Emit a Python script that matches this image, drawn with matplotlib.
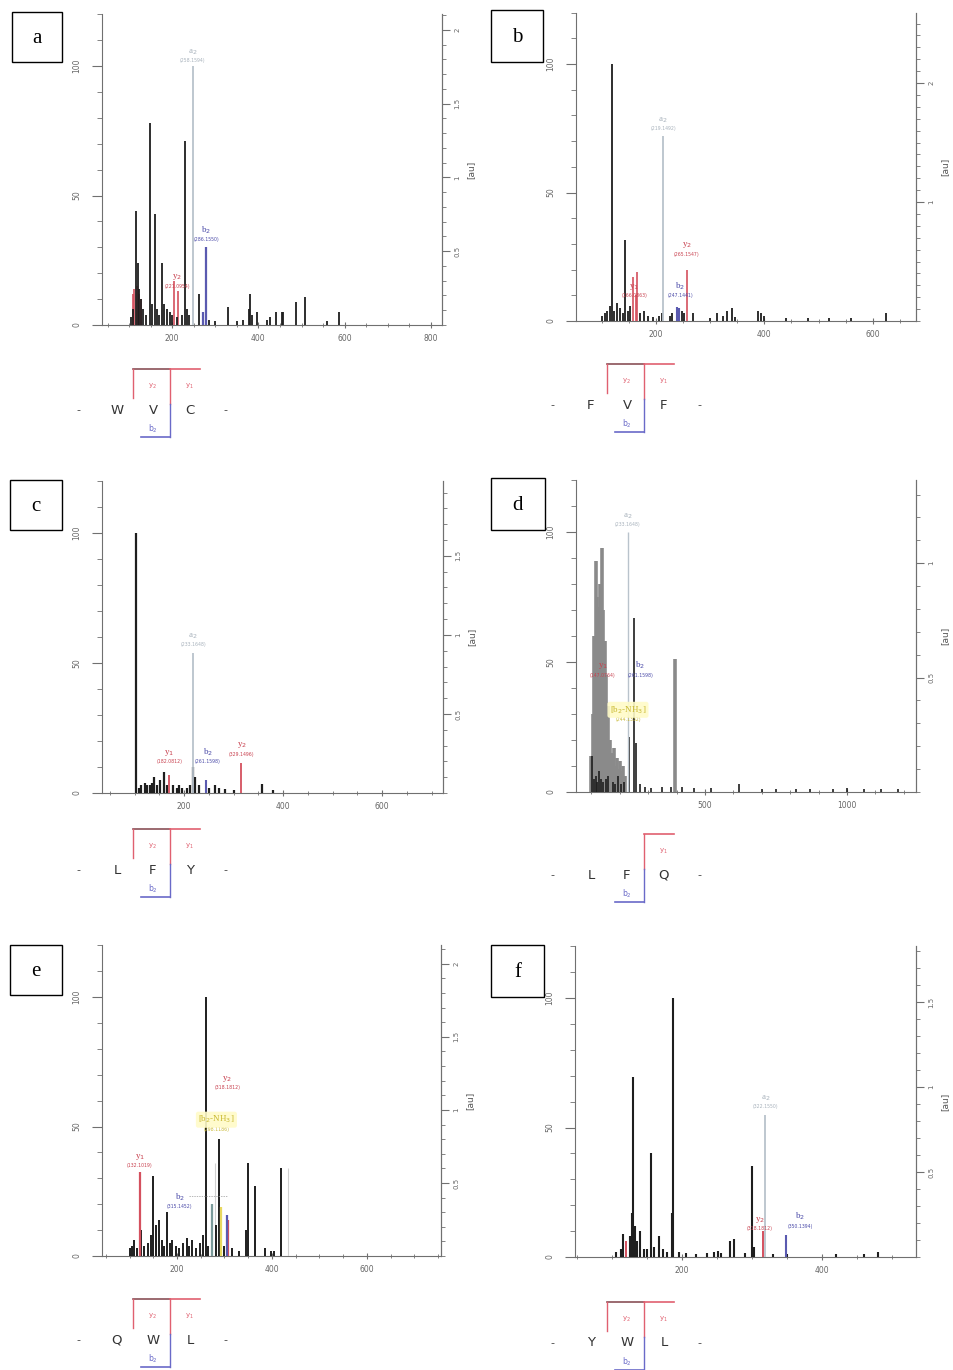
import matplotlib
matplotlib.use('Agg')
import matplotlib.pyplot as plt
from matplotlib.patches import Rectangle
from matplotlib.ticker import MultipleLocator, FixedLocator

# ---------------- data ----------------
# panel a (W V C)
a_black_mz = [104, 110, 116, 120, 124, 128, 133, 140, 149, 153, 160, 165, 170, 177, 182, 188, 195, 200, 210, 222, 230, 235, 240, 261, 285, 300, 330, 350, 365, 378, 381, 385, 397, 420, 428, 440, 455, 458, 488, 507, 560, 588]
a_black_h = [3, 6, 44, 24, 14, 10, 6, 4, 78, 8, 43, 6, 4, 24, 8, 6, 5, 4, 3, 4, 71, 6, 4, 12, 2, 1.5, 7, 1.5, 2, 6, 12, 4, 5, 2, 3, 5, 5, 5, 9, 11, 1.5, 5]
a_red_mz = [108, 112, 118, 122, 128, 205, 213]
a_red_h = [12, 14, 15, 12, 10, 17, 13]
a_gray_mz = [248]
a_gray_h = [100]
a_blue_mz = [272, 278]
a_blue_h = [5, 30]

# panel b (F V F)
b_black_mz = [100, 105, 110, 114, 118, 122, 128, 133, 138, 143, 148, 152, 170, 178, 185, 195, 205, 210, 225, 230, 248, 252, 268, 300, 312, 323, 330, 340, 345, 388, 393, 400, 440, 480, 520, 560, 625]
b_black_h = [2, 3, 4, 6, 100, 4, 7, 5, 3, 31.5, 4, 6, 3, 4, 2, 1.5, 2, 3, 2, 3, 4, 3, 3, 1, 3, 2, 4, 5, 1.5, 4, 3, 2, 1, 1, 1, 1, 3]
b_red_mz = [157, 162, 165, 257]
b_red_h = [17, 10, 19, 20]
b_gray_mz = [213]
b_gray_h = [72]
b_blue_mz = [239, 243]
b_blue_h = [5.5, 5]

# panel c (L F Y)
c_black_mz = [103, 108, 112, 120, 125, 130, 135, 140, 145, 152, 160, 165, 178, 185, 190, 196, 205, 212, 218, 222, 230, 250, 262, 270, 282, 300, 357, 380]
c_black_h = [100, 2, 3, 4, 3, 3, 4, 6, 3, 5, 8, 3, 3, 2, 3, 2, 2, 3, 10, 6, 3, 2, 3, 2, 1.5, 1, 3.5, 1]
c_red_mz = [170, 315]
c_red_h = [7, 11.5]
c_gray_mz = [218]
c_gray_h = [54]
c_blue_mz = [244]
c_blue_h = [5]

# panel d (L F Q)
d_cluster_mz = [98, 105, 110, 116, 121, 127, 132, 137, 142, 148, 153, 158, 165, 172, 180, 186, 190, 195, 200, 205, 212, 220, 394]
d_cluster_h = [14, 30, 60, 89, 75, 71, 80, 94, 70, 58, 45, 33, 20, 15, 17, 10, 13, 9, 12, 8, 10, 6, 51]
d_black_mz = [102, 108, 115, 120, 128, 135, 140, 150, 160, 175, 185, 195, 205, 215, 232, 250, 258, 270, 290, 310, 350, 380, 420, 460, 520, 620, 700, 750, 820, 870, 950, 1000, 1060, 1120, 1180]
d_black_h = [14, 5, 6, 4, 8, 5, 4, 5, 6, 4, 3, 6, 3, 4, 21, 67, 19, 3, 2, 1.5, 2, 2, 2, 1.5, 1.5, 3, 1, 1, 1, 1, 1, 1.5, 1, 1, 1]
d_gray_mz = [228]
d_gray_h = [100]

# panel e (Q W L)
e_black_mz = [100, 105, 110, 115, 125, 130, 138, 145, 149, 155, 162, 168, 172, 179, 185, 190, 198, 205, 212, 220, 225, 232, 240, 248, 255, 261, 266, 283, 289, 298, 315, 330, 345, 350, 364, 385, 398, 405, 420]
e_black_h = [3, 4, 6, 3, 10, 4, 5, 8, 31, 12, 14, 6, 4, 17, 5, 6, 4, 3, 5, 7, 4, 6, 3, 5, 8, 100, 4, 12, 45, 4, 3, 2, 10, 36, 27, 3, 2, 2, 34]
e_red_mz = [122, 308]
e_red_h = [32.5, 14]
e_teal_mz = [273]
e_teal_h = [20]
e_yellow_mz = [292]
e_yellow_h = [19]
e_blue_mz = [305]
e_blue_h = [16]
e_faint_mz = [280, 433]
e_faint_h = [36, 34]

# panel f (Y W L)
f_black_mz = [105, 112, 116, 125, 128, 130, 133, 136, 140, 145, 150, 156, 160, 167, 172, 178, 186, 187, 195, 205, 220, 235, 245, 251, 255, 269, 274, 290, 300, 302, 330, 350, 420, 460, 480]
f_black_h = [2, 3, 9, 8, 17, 69.5, 12, 6, 10, 3, 3, 40, 4, 8, 3, 2, 17, 100, 2, 1.5, 1, 1.5, 2, 2.5, 1.5, 6, 7, 1.5, 35, 4, 1, 1, 1, 1, 2]
f_red_mz = [120, 316]
f_red_h = [6, 10]
f_gray_mz = [319]
f_gray_h = [55]
f_blue_mz = [349]
f_blue_h = [8.5]

# ion annotations: (x, y, ion, m/z text, colour key)
a_ann = [(248, 101, 'a$_2$', '(258.1594)', 'gray'), (279, 32, 'b$_2$', '(286.1550)', 'blue'), (211, 14, 'y$_2$', '(221.0954)', 'red')]
b_ann = [(213, 74, 'a$_2$', '(219.1492)', 'gray'), (257, 25, 'y$_2$', '(265.1547)', 'red'), (160, 9, 'y$_1$', '(166.0863)', 'red'), (245, 9, 'b$_2$', '(247.1441)', 'blue')]
c_ann = [(218, 56, 'a$_2$', '(233.1648)', 'gray'), (170, 11, 'y$_1$', '(182.0812)', 'red'), (248, 11, 'b$_2$', '(261.1598)', 'blue'), (316, 14, 'y$_2$', '(329.1496)', 'red')]
d_ann = [(228, 102, 'a$_2$', '(233.1648)', 'gray'), (140, 44, 'y$_1$', '(147.0764)', 'red'), (272, 44, 'b$_2$', '(261.1598)', 'blue'), (229, 27, '[b$_2$-NH$_3$]', '(244.1332)', 'yellow')]
e_ann = [(122, 34, 'y$_1$', '(132.1019)', 'red'), (206, 18, 'b$_2$', '(315.1452)', 'blue'), (306, 64, 'y$_2$', '(318.1812)', 'red'), (283, 48, '[b$_2$-NH$_3$]', '(298.1186)', 'yellow')]
f_ann = [(319, 57, 'a$_2$', '(322.1550)', 'gray'), (311, 10, 'y$_2$', '(318.1812)', 'red'), (369, 11, 'b$_2$', '(350.1394)', 'blue')]

# peptide sequences
seq_a = ['W', 'V', 'C']
seq_b = ['F', 'V', 'F']
seq_c = ['L', 'F', 'Y']
seq_d = ['L', 'F', 'Q']
seq_e = ['Q', 'W', 'L']
seq_f = ['Y', 'W', 'L']

panel_letters = ['a', 'b', 'c', 'd', 'e', 'f']

# right-axis tick labels (absolute intensity)
a_rticks = [0.5, 1, 1.5, 2]
b_rticks = [1, 2]
c_rticks = [0.5, 1, 1.5]
d_rticks = [0.5, 1]
e_rticks = [0.5, 1, 1.5, 2]
f_rticks = [0.5, 1, 1.5]

# ---------------- style ----------------
COL = {'black': '#1e1e1e', 'red': '#d4505e', 'gray': '#b9c3cc', 'blue': '#5a5ab0',
       'cluster': '#8a8a8a', 'teal': '#7a9a9a', 'yellow': '#e8d860', 'faint': '#d0d0d0'}
TXT = {'gray': '#a8b2bc', 'red': '#c8404e', 'blue': '#4a4aa8', 'yellow': '#c8b830'}
AX = '#707070'

W, H = 954, 1370
fig = plt.figure(figsize=(W / 100, H / 100), dpi=100)
fig.patch.set_facecolor('white')

def fpos(left, right, base, top):
    return [left / W, 1 - base / H, (right - left) / W, (base - top) / H]

def make_panel(geom, xlim, xmaj, xmin, unit, rticks, series, ann):
    left, right, base, pxper = geom
    top = base - 120 * pxper
    ax = fig.add_axes(fpos(left, right, base, top))
    ax.set_xlim(*xlim)
    ax.set_ylim(0, 120)
    for mz, h, key, lw in series:
        ax.vlines(mz, 0, h, colors=COL[key], lw=lw, zorder=3 if key != 'cluster' else 2)
    ax.spines['top'].set_visible(False)
    for s in ['left', 'bottom', 'right']:
        ax.spines[s].set_color(AX)
        ax.spines[s].set_linewidth(0.8)
    ax.yaxis.set_major_locator(FixedLocator([0, 50, 100]))
    ax.yaxis.set_minor_locator(MultipleLocator(10))
    ax.xaxis.set_major_locator(MultipleLocator(xmaj))
    ax.xaxis.set_minor_locator(MultipleLocator(xmin))
    ax.tick_params(axis='y', which='major', length=7, width=0.8, color=AX, labelsize=5.5,
                   labelcolor='#666666', labelrotation=90, pad=8)
    ax.tick_params(axis='y', which='minor', length=3.5, width=0.6, color=AX)
    ax.tick_params(axis='x', which='major', length=5, width=0.8, color=AX, labelsize=5.5,
                   labelcolor='#666666', direction='inout', pad=4)
    ax.tick_params(axis='x', which='minor', length=3, width=0.6, color=AX, direction='inout')
    for lab in ax.get_yticklabels():
        lab.set_va('center')
    ax.set_facecolor('none')
    # right axis
    ax2 = ax.twinx()
    ax2.set_ylim(0, 120 / unit)
    ax2.yaxis.set_major_locator(FixedLocator(rticks))
    ax2.yaxis.set_minor_locator(MultipleLocator(0.1))
    ax2.set_yticklabels([('%g' % v) for v in rticks])
    for s in ['left', 'bottom', 'top']:
        ax2.spines[s].set_visible(False)
    ax2.spines['right'].set_color(AX)
    ax2.spines['right'].set_linewidth(0.8)
    ax2.tick_params(axis='y', which='major', length=6, width=0.8, color=AX, labelsize=5,
                    labelcolor='#666666', labelrotation=90, pad=3)
    ax2.tick_params(axis='y', which='minor', length=3, width=0.6, color=AX)
    for lab in ax2.get_yticklabels():
        lab.set_va('center')
    ax2.set_ylabel('[au]', rotation=90, fontsize=6.5, color='#555555', labelpad=4)
    # annotations
    for x, y, ion, num, key in ann:
        bb = None
        if key == 'yellow':
            bb = dict(boxstyle='round,pad=0.25', fc='#fffbc8', ec='none', alpha=0.9)
        ax.annotate(num, (x, y), xytext=(0, 0), textcoords='offset points', ha='center',
                    va='bottom', fontsize=3.3, color=TXT[key], zorder=5)
        ax.annotate(ion, (x, y), xytext=(0, 4.5), textcoords='offset points', ha='center',
                    va='bottom', fontsize=6.5, color=TXT[key], family='Liberation Serif',
                    bbox=bb, zorder=5)
    return ax

def S(mzs, hs, key, lw=1.3):
    return [(m, h, key, lw) for m, h in zip(mzs, hs)]

panels = [
    ((102, 442, 325, 2.59), (37, 826), 200, 50, 57.0, a_rticks,
     S(a_red_mz, a_red_h, 'red', 1.2) + S(a_black_mz, a_black_h, 'black') + S(a_gray_mz, a_gray_h, 'gray', 1.3)
     + S(a_blue_mz, a_blue_h, 'blue', 1.6), a_ann),
    ((576, 916, 321, 2.57), (52, 680), 200, 50, 46.3, b_rticks,
     S(b_black_mz, b_black_h, 'black') + S(b_red_mz, b_red_h, 'red', 1.2) + S(b_gray_mz, b_gray_h, 'gray')
     + S(b_blue_mz, b_blue_h, 'blue', 1.5), b_ann),
    ((102, 443, 793, 2.60), (34, 723), 200, 50, 60.8, c_rticks,
     S(c_black_mz, c_black_h, 'black', 1.6) + S(c_red_mz, c_red_h, 'red', 1.3) + S(c_gray_mz, c_gray_h, 'gray')
     + S(c_blue_mz, c_blue_h, 'blue', 1.5), c_ann),
    ((576, 916, 792, 2.60), (46, 1243), 500, 100, 88.0, d_rticks,
     S(d_cluster_mz, d_cluster_h, 'cluster', 2.6) + S(d_black_mz, d_black_h, 'black', 1.2)
     + S(d_gray_mz, d_gray_h, 'gray', 1.0), d_ann),
    ((102, 441, 1256, 2.59), (42, 756), 200, 50, 56.4, e_rticks,
     S(e_faint_mz, e_faint_h, 'faint', 0.8) + S(e_black_mz, e_black_h, 'black', 1.4) + S(e_red_mz, e_red_h, 'red', 1.6)
     + S(e_teal_mz, e_teal_h, 'teal', 1.6) + S(e_yellow_mz, e_yellow_h, 'yellow', 1.6)
     + S(e_blue_mz, e_blue_h, 'blue', 1.6), e_ann),
    ((575, 916, 1257, 2.59), (47, 534), 200, 50, 65.6, f_rticks,
     S(f_black_mz, f_black_h, 'black', 1.5) + S(f_red_mz, f_red_h, 'red', 1.4) + S(f_gray_mz, f_gray_h, 'gray')
     + S(f_blue_mz, f_blue_h, 'blue', 1.5), f_ann),
]

axes = [make_panel(*p) for p in panels]

# dashed leader for b2 label in panel e
axes[4].plot([225, 305], [23, 23], ls=(0, (2, 1.5)), lw=0.5, color='#9a9a9a', zorder=4)

# ---------------- overlay: panel letters & sequence diagrams ----------------
ov = fig.add_axes([0, 0, 1, 1])
ov.set_xlim(0, W)
ov.set_ylim(H, 0)
ov.axis('off')
ov.patch.set_alpha(0)

boxes = [(12, 12, 50, 50), (491, 10, 52, 52), (10, 480, 52, 50),
         (491, 478, 54, 52), (10, 945, 52, 50), (491, 945, 53, 52)]
for (bx, by, bw, bh), letter in zip(boxes, panel_letters):
    ov.add_patch(Rectangle((bx, by), bw, bh, fill=False, ec='black', lw=1.0))
    ov.text(bx + bw / 2, by + bh / 2 + 1, letter, ha='center', va='center', fontsize=15,
            family='Liberation Serif', color='black')

RED, BLUE = '#e06070', '#6a6ac8'

def draw_seq(x0, yb, residues, has_y2=True):
    ov.text(x0 - 24, yb, '-', ha='center', va='center', fontsize=8, color='#444444')
    ov.text(x0 + 123, yb, '-', ha='center', va='center', fontsize=8, color='#444444')
    for dx, r in zip([15, 51, 88], residues):
        ov.text(x0 + dx, yb, r, ha='center', va='center', fontsize=9.5, color='#333333',
                family='DejaVu Sans')
    ytop = yb - 41
    ybot = yb + 27
    if has_y2:
        ov.plot([x0 + 31, x0 + 68], [ytop, ytop], color='#8a5058', lw=1.2)
        ov.plot([x0 + 31, x0 + 31], [ytop, yb - 12], color=RED, lw=1.0)
        ov.text(x0 + 50, yb - 24, 'y$_2$', ha='center', va='center', fontsize=5, color=RED)
    ov.plot([x0 + 68, x0 + 98], [ytop, ytop], color=RED, lw=1.2)
    ov.plot([x0 + 68, x0 + 68], [ytop, yb - 6], color=RED, lw=1.0)
    ov.plot([x0 + 68, x0 + 68], [yb - 6, ybot], color=BLUE, lw=1.0)
    ov.plot([x0 + 39, x0 + 68], [ybot, ybot], color=BLUE, lw=1.2)
    ov.text(x0 + 87, yb - 24, 'y$_1$', ha='center', va='center', fontsize=5, color=RED)
    ov.text(x0 + 51, yb + 19, 'b$_2$', ha='center', va='center', fontsize=5.5, color=BLUE)

draw_seq(102, 410, seq_a)
draw_seq(576, 405, seq_b)
draw_seq(102, 870, seq_c)
draw_seq(576, 875, seq_d, has_y2=False)
draw_seq(102, 1340, seq_e)
draw_seq(576, 1343, seq_f)

fig.savefig('out.png', dpi=100)
